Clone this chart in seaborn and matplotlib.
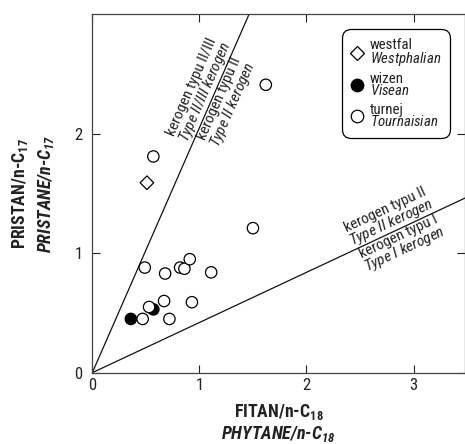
import numpy as np
import pandas as pd
import matplotlib
matplotlib.use('Agg')
import matplotlib.pyplot as plt
from matplotlib.lines import Line2D
import seaborn as sns

# Dane (Ph/n-C18, Pr/n-C17)
wizen_ph = [0.36, 0.57]
wizen_pr = [0.45, 0.53]
westfal_ph = [0.51]
westfal_pr = [1.59]
turnej_ph = [0.57, 0.49, 0.68, 0.82, 0.86, 0.91, 1.11, 0.67, 0.53, 0.93, 0.47, 0.72, 1.50, 1.62]
turnej_pr = [1.81, 0.88, 0.83, 0.88, 0.87, 0.95, 0.84, 0.60, 0.55, 0.59, 0.45, 0.45, 1.21, 2.41]

groups = ['westfal', 'wizen', 'turnej']
group_labels = ['Westphalian', 'Visean', 'Tournaisian']
group_markers = {'westfal': 'D', 'wizen': 'o', 'turnej': 'o'}
group_faces = {'westfal': 'white', 'wizen': 'black', 'turnej': 'white'}
group_sizes = {'westfal': 48, 'wizen': 67, 'turnej': 67}

# granice typow kerogenu: Pr/n-C17 = k * Ph/n-C18
boundary_slopes = [2.05, 0.42]
boundary_x = [0, 3.6]

df = pd.concat([
    pd.DataFrame({'ph': wizen_ph, 'pr': wizen_pr, 'group': 'wizen'}),
    pd.DataFrame({'ph': westfal_ph, 'pr': westfal_pr, 'group': 'westfal'}),
    pd.DataFrame({'ph': turnej_ph, 'pr': turnej_pr, 'group': 'turnej'}),
], ignore_index=True)

sns.set_style('ticks')
FAM = 'Roboto Condensed'
plt.rcParams['font.family'] = [FAM, 'DejaVu Sans']
plt.rcParams['mathtext.fontset'] = 'custom'
plt.rcParams['mathtext.default'] = 'regular'
plt.rcParams['mathtext.rm'] = FAM
plt.rcParams['mathtext.it'] = FAM + ':italic'
plt.rcParams['mathtext.bf'] = FAM + ':bold'
TXT = '#222222'

fig = plt.figure(figsize=(4.65, 4.44), dpi=100)
ax = fig.add_axes([0.1985, 0.1606, 0.8015, 0.8072])

for k in boundary_slopes:
    ax.plot(boundary_x, [k * x for x in boundary_x], color='#111111', lw=0.9, zorder=1)

sns.scatterplot(data=df, x='ph', y='pr', hue='group', palette=group_faces,
                style='group', markers=group_markers, size='group', sizes=group_sizes,
                edgecolor='black', linewidth=0.9, legend=False, ax=ax, zorder=3)

ax.set_xlim(0, 3.48)
ax.set_ylim(0, 3)
ax.set_xticks([0, 1, 2, 3])
ax.set_yticks([0, 1, 2])
ax.tick_params(direction='in', length=5.5, width=0.8, top=True, right=True,
               labelsize=12, colors=TXT)
ax.tick_params(axis='x', pad=4)
ax.tick_params(axis='y', pad=7)
for s in ax.spines.values():
    s.set_color('#444444')
    s.set_linewidth(0.9)
ax.set_xlabel('')
ax.set_ylabel('')

# opisy wzdluz linii granicznych
lab_fs = 11
a1 = np.degrees(np.arctan(boundary_slopes[0]))
a2 = np.degrees(np.arctan(boundary_slopes[1]))
x1, x2 = 1.13, 2.83
line_labels = [
    (x1, boundary_slopes[0], a1, 'bottom', 'kerogen typu II/III\n$\\mathit{Type\\ II/III\\ kerogen}$'),
    (x1, boundary_slopes[0], a1, 'top', 'kerogen typu II\n$\\mathit{Type\\ II\\ kerogen}$'),
    (x2, boundary_slopes[1], a2, 'bottom', 'kerogen typu II\n$\\mathit{Type\\ II\\ kerogen}$'),
    (x2, boundary_slopes[1], a2, 'top', 'kerogen typu I\n$\\mathit{Type\\ I\\ kerogen}$'),
]
for xx, k, ang, va, txt in line_labels:
    ax.text(xx, k * xx, txt, rotation=ang, transform_rotates_text=True,
            rotation_mode='anchor', ha='center', va=va, fontsize=lab_fs,
            linespacing=0.85, color=TXT)

# legenda
handles = [Line2D([], [], ls='none', marker=group_markers[g],
                  markersize=(9 if g != 'westfal' else 7),
                  markerfacecolor=group_faces[g], markeredgecolor='black', markeredgewidth=0.9)
           for g in groups]
labels = [f'{g}\n$\\mathit{{{lab}}}$' for g, lab in zip(groups, group_labels)]
leg = ax.legend(handles, labels, loc='upper left', bbox_to_anchor=(0.671, 0.958),
                frameon=True, fancybox=True, fontsize=10.7, handlelength=0.8,
                handletextpad=0.43, borderpad=0.6, labelspacing=0.28, borderaxespad=0)
leg.get_frame().set_edgecolor('black')
leg.get_frame().set_linewidth(0.9)
leg.get_frame().set_alpha(1)
leg.get_frame().set_boxstyle('round,pad=0,rounding_size=0.6')
for t in leg.get_texts():
    t.set_linespacing(0.8)
    t.set_color(TXT)

# opisy osi
fig.text(0.5 * (0.1985 + 1.0), 0.061, 'FITAN/n-C$_{18}$', ha='center', va='baseline',
         fontsize=12.8, fontweight='bold', color=TXT)
fig.text(0.5 * (0.1985 + 1.0), 0.011, 'PHYTANE/n-C$_{18}$', ha='center', va='baseline',
         fontsize=13, fontweight='bold', fontstyle='italic', color=TXT)
ymid = 0.1606 + 0.8072 / 2
fig.text(0.054, ymid, 'PRISTAN/n-C$_{17}$', rotation=90, rotation_mode='anchor',
         ha='center', va='baseline', fontsize=12.8, fontweight='bold', color=TXT)
fig.text(0.109, ymid, 'PRISTANE/n-C$_{17}$', rotation=90, rotation_mode='anchor',
         ha='center', va='baseline', fontsize=13, fontweight='bold', fontstyle='italic',
         color=TXT)

fig.savefig('out.png', dpi=100)
